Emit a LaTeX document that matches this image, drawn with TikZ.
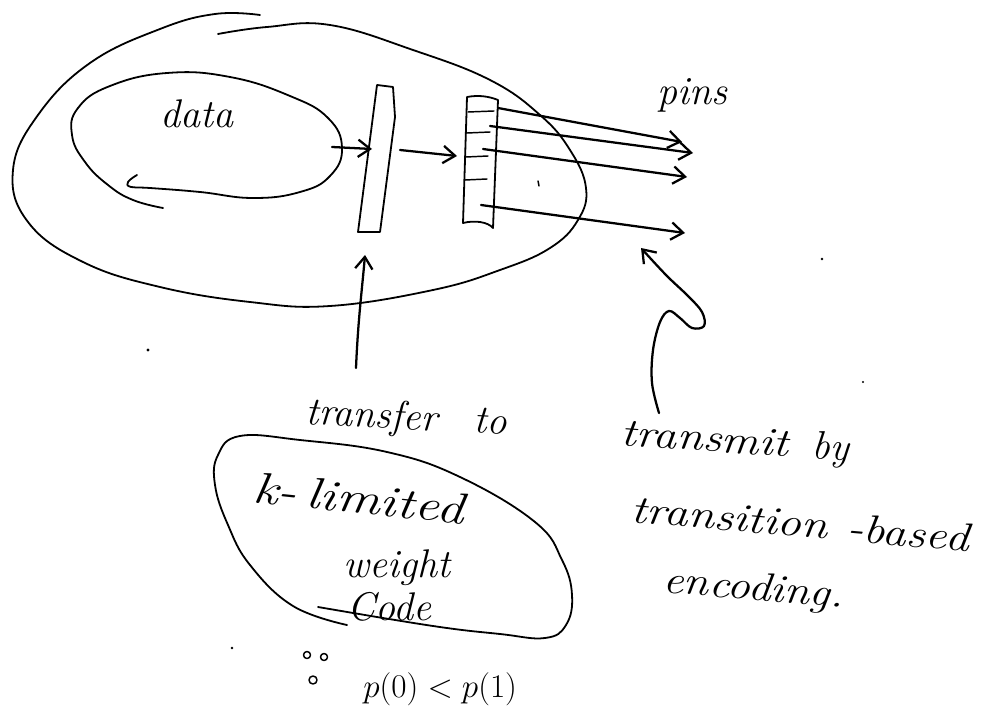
\documentclass[tikz,border=0pt]{standalone}
\usetikzlibrary{arrows.meta}
\begin{document}
\begin{tikzpicture}[x=0.75pt,y=-0.75pt,line cap=round,line join=round,
  stroke/.style={line width=1.35pt},
  thin stroke/.style={line width=1.1pt},
  arr/.style={line width=1.7pt,-{Straight Barb[length=9pt,width=13pt,line width=1.7pt]}},
  hand/.style={font=\itshape\fontsize{30}{34}\selectfont,inner sep=0pt,anchor=base west},
  speck/.style={fill=black,draw=none}]
\useasboundingbox (0,0) rectangle (994,712);

% outer egg (open loop with overlapping ends)
\draw[stroke] plot[smooth,tension=0.7] coordinates {(260,15) (215,14) (160,29) (90,63) (38,115) (13,170) (28,222) (83,262) (160,287) (250,302) (330,306) (433,290) (500,270) (550,248) (578,220) (586,188) (570,150) (540,115) (490,80) (413,50) (330,25) (267,27) (218,34)};

% inner "data" loop
\draw[stroke] plot[smooth,tension=0.75] coordinates {(163,208) (133,200) (108,185) (85,162) (72,135) (78,108) (110,86) (167,73) (230,77) (290,96) (328,118) (342,148) (330,176) (300,192) (253,198) (200,192) (150,188) (131,187) (128,182) (137,175)};

% bar 1
\draw[stroke] (377,85) -- (393,87) -- (395,117) -- (380,232) -- (358,232) -- cycle;
% bar 2
\draw[stroke] (467,97) .. controls (478,95) and (488,96) .. (498,100) -- (493,228) .. controls (488,222) and (475,220) .. (463,223) -- cycle;
\foreach \yy/\xa/\xb in {112/468/494,133/467/490,157/466/488,180/465/487}
  \draw[thin stroke] (\xa,\yy) -- (\xb,\yy-1);

% named connector ends
\coordinate (dataOut) at (332,147);
\coordinate (barOneIn) at (372,149);
\coordinate (barOneOut) at (400,150);
\coordinate (barTwoIn) at (457,156);
\coordinate (pA) at (498,108);  \coordinate (pAe) at (682,142);
\coordinate (pB) at (490,126);  \coordinate (pBe) at (693,153);
\coordinate (pC) at (483,149);  \coordinate (pCe) at (687,177);
\coordinate (pD) at (481,205);  \coordinate (pDe) at (685,233);
\coordinate (upFrom) at (356,368);
\coordinate (upTo) at (365,255);
\coordinate (curlFrom) at (659,413);
\coordinate (curlTo) at (641,248);

\draw[arr] (dataOut) -- (barOneIn);
\draw[arr] (barOneOut) -- (barTwoIn);
\draw[arr] (pA) -- (pAe);
\draw[arr] (pB) -- (pBe);
\draw[arr] (pC) -- (pCe);
\draw[arr] (pD) -- (pDe);
\draw[arr] (upFrom) .. controls (358,320) and (362,290) .. (upTo);
\draw[arr] plot[smooth,tension=0.6] coordinates {(curlFrom) (652,383) (653,350) (660,322) (669,311) (680,318) (692,328) (704,326) (702,312) (688,296) (666,275) (curlTo)};

% code loop
\draw[stroke] plot[smooth,tension=0.7] coordinates {(318,607) (433,626) (500,634) (545,638) (566,625) (572,595) (562,560) (535,522) (460,477) (387,452) (300,440) (240,436) (218,455) (215,485) (228,525) (250,565) (293,606) (347,625)};

% labels
\node[hand] (data) at (160,128) {data};
\node[hand] (pins) at (657,105) {pins};
\node[hand,rotate=-3] (transfer) at (305,424) {transfer\hspace{0.9em}to};
\node[hand,rotate=-6] (klim) at (252,502) {\scalebox{1.25}[1]{\fontsize{33}{36}\selectfont k-\,limited}};
\node[hand] (weight) at (343,577) {weight};
\node[hand] (code) at (347,620) {Code};
\node[hand,font=\fontsize{31}{34}\selectfont] (prob) at (363,697) {$p(0)<p(1)$};
\node[hand,rotate=-4] (transmit) at (620,445) {\scalebox{1.18}[1]{transmit}\hspace{0.6em}by};
\node[hand,rotate=-5] (transition) at (630,522) {\scalebox{1.2}[1]{transition\hspace{0.4em}-based}};
\node[hand,rotate=-5] (encoding) at (662,592) {\scalebox{1.15}[1]{encoding.}};

% because sign
\draw[thin stroke] (307,655) circle (3.5) (324,657) circle (3.5) (313,680) circle (4);

% stray specks
\fill[speck] (148,350) circle (1.6);
\draw[thin stroke] (538,181) -- (539,186);
\fill[speck] (822,259) circle (1.3);
\fill[speck] (863,382) circle (1.1);
\fill[speck] (232,648) circle (1.3);
\end{tikzpicture}
\end{document}
